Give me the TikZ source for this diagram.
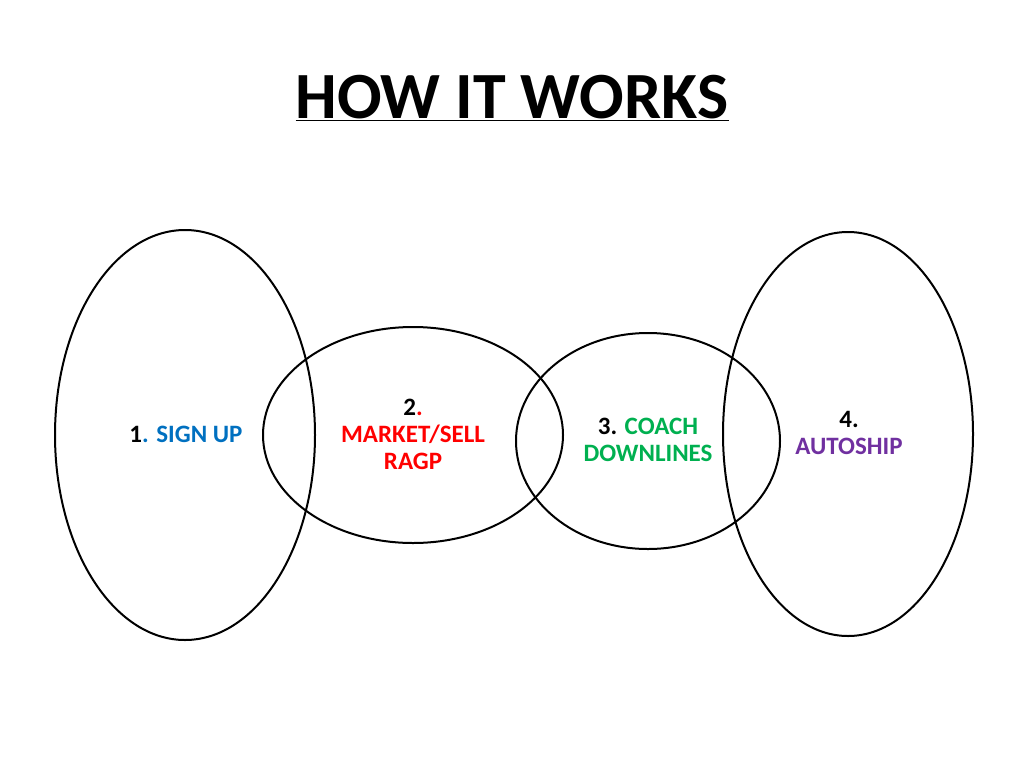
\documentclass[tikz,border=0pt]{standalone}
\usepackage{fontspec}
\setmainfont{Carlito}
\usetikzlibrary{positioning}
\definecolor{signblue}{RGB}{0,112,192}
\definecolor{sellred}{RGB}{255,0,0}
\definecolor{coachgreen}{RGB}{0,176,80}
\definecolor{shippurple}{RGB}{112,48,160}
\tikzset{
    stage/.style={draw=black, line width=2pt},
    label/.style={font=\bfseries\fontsize{25}{27}\selectfont, align=center}
}
\begin{document}
\begin{tikzpicture}[x=1pt,y=-1pt]
    \useasboundingbox (0,0) rectangle (1024,768);
    \node[font=\bfseries\fontsize{66}{70}\selectfont] (title) at (512,98) {\underline{HOW IT WORKS}};
    \draw[stage] (185,435) ellipse [x radius=130, y radius=205];
    \draw[stage] (413,435) ellipse [x radius=150, y radius=108];
    \draw[stage] (648,441) ellipse [x radius=132, y radius=108];
    \draw[stage] (848,434) ellipse [x radius=125, y radius=202];
    \node[label] (sign) at (186,434) {1\textcolor{signblue}{. SIGN UP}};
    \node[label] (sell) at (413,434) {2\textcolor{sellred}{.}\\\textcolor{sellred}{MARKET/SELL}\\\textcolor{sellred}{RAGP}};
    \node[label] (coach) at (648,440) {3. \textcolor{coachgreen}{COACH}\\\textcolor{coachgreen}{DOWNLINES}};
    \node[label] (ship) at (849,433) {4.\\\textcolor{shippurple}{AUTOSHIP}};
\end{tikzpicture}
\end{document}
